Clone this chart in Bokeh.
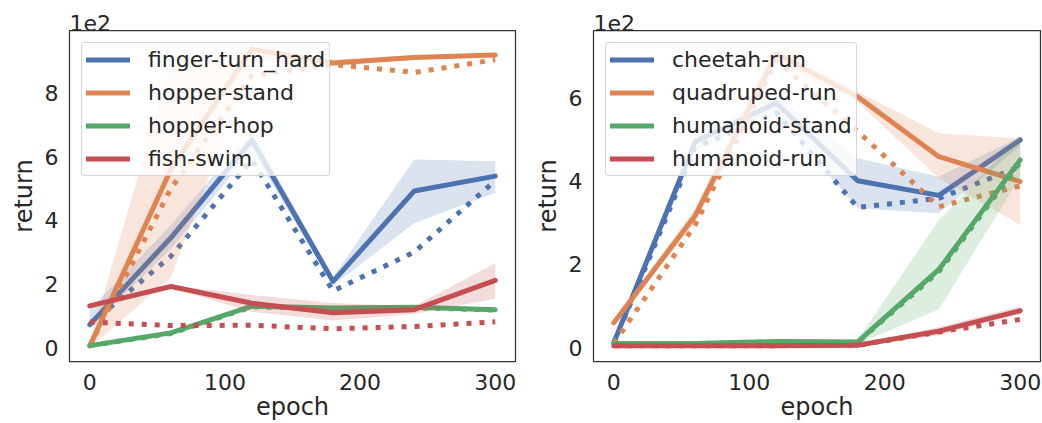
from bokeh.plotting import figure
from bokeh.layouts import row
from bokeh.models import Range1d, FixedTicker, CustomJSTickFormatter
from bokeh.embed import file_html
from bokeh.resources import INLINE

epochs = [0, 60, 120, 180, 240, 300]

# ---- left panel ----
left_names = ["finger-turn_hard", "hopper-stand", "hopper-hop", "fish-swim"]
finger_mean = [72, 345, 652, 208, 492, 539]
finger_lo = [60, 310, 620, 195, 391, 487]
finger_hi = [119, 385, 680, 222, 591, 586]
finger_dot = [72, 287, 590, 178, 300, 525]

hstand_mean = [5, 560, 938, 895, 912, 920]
hstand_lo = [0, 220, 900, 885, 905, 915]
hstand_hi = [20, 890, 947, 905, 920, 925]
hstand_dot = [5, 500, 855, 890, 865, 905]

hhop_mean = [6, 46, 130, 124, 127, 119]
hhop_lo = [3, 40, 122, 118, 120, 114]
hhop_hi = [10, 52, 138, 130, 134, 124]
hhop_dot = [6, 44, 128, 122, 125, 118]

fish_mean = [131, 192, 139, 109, 119, 211]
fish_lo = [125, 188, 112, 85, 105, 153]
fish_hi = [137, 196, 165, 140, 130, 265]
fish_dot = [80, 69, 70, 59, 66, 81]

# ---- right panel ----
right_names = ["cheetah-run", "quadruped-run", "humanoid-stand", "humanoid-run"]
cheetah_mean = [12, 495, 588, 401, 366, 499]
cheetah_lo = [5, 475, 560, 335, 323, 485]
cheetah_hi = [20, 510, 605, 455, 411, 507]
cheetah_dot = [10, 480, 565, 337, 359, 435]

quad_mean = [60, 317, 706, 603, 459, 399]
quad_lo = [55, 300, 680, 590, 407, 295]
quad_hi = [65, 335, 730, 615, 515, 503]
quad_dot = [10, 295, 690, 520, 339, 389]

hustand_mean = [10, 10, 15, 14, 188, 451]
hustand_lo = [5, 5, 10, 9, 92, 411]
hustand_hi = [15, 15, 20, 19, 307, 511]
hustand_dot = [10, 10, 14, 13, 183, 445]

hurun_mean = [5, 5, 5, 6, 40, 89]
hurun_lo = [2, 2, 2, 3, 30, 80]
hurun_hi = [8, 8, 8, 9, 50, 99]
hurun_dot = [5, 5, 5, 6, 38, 68]

colors = ["#4C72B0", "#DD8452", "#55A868", "#C44E52"]
x_ticks = [0, 100, 200, 300]
left_yticks = [0, 200, 400, 600, 800]
right_yticks = [0, 200, 400, 600]

FONT = "DejaVu Sans"
TXT = "#262626"


def make_panel(series, names, yticks, yrange, width, bl, br):
    p = figure(width=width, height=423, output_backend="svg", toolbar_location=None,
               x_range=Range1d(-15, 315), y_range=Range1d(*yrange),
               min_border_left=bl, min_border_right=br, min_border_top=30,
               min_border_bottom=61)
    p.background_fill_color = "white"
    p.border_fill_color = "white"
    p.grid.visible = False
    p.outline_line_color = "#333333"
    p.outline_line_width = 1.25
    p.outline_line_alpha = 1.0

    for (mean, lo, hi, dot), name, c in zip(series, names, colors):
        p.varea(x=epochs, y1=lo, y2=hi, fill_color=c, fill_alpha=0.2)
        p.line(epochs, mean, line_color=c, line_width=5, line_cap="round",
               line_join="round", legend_label=name)
        p.line(epochs, dot, line_color=c, line_width=5, line_dash="5 8",
               line_cap="butt")

    for ax in (p.xaxis[0], p.yaxis[0]):
        ax.axis_line_color = None
        ax.major_tick_line_color = None
        ax.minor_tick_line_color = None
        ax.major_label_text_font = FONT
        ax.major_label_text_font_size = "22px"
        ax.major_label_text_color = TXT
        ax.axis_label_text_font = FONT
        ax.axis_label_text_font_size = "24px"
        ax.axis_label_text_font_style = "normal"
        ax.axis_label_text_color = TXT

    p.xaxis.ticker = FixedTicker(ticks=x_ticks)
    p.xaxis.axis_label = "epoch"
    p.xaxis.major_label_standoff = 6
    p.xaxis.axis_label_standoff = 0
    p.yaxis.ticker = FixedTicker(ticks=yticks)
    p.yaxis.formatter = CustomJSTickFormatter(code="return (tick/100).toFixed(0);")
    p.yaxis.axis_label = "return"
    p.yaxis.major_label_standoff = 5
    p.yaxis.axis_label_standoff = 4

    p.title.text = "1e2"
    p.title.text_font = FONT
    p.title.text_font_size = "22px"
    p.title.text_font_style = "normal"
    p.title.text_color = TXT
    p.title.standoff = 0
    p.title.offset = 0

    lg = p.legend[0]
    lg.location = "top_left"
    lg.margin = 12
    lg.padding = 4
    lg.spacing = 8
    lg.glyph_width = 44
    lg.glyph_height = 25
    lg.label_height = 25
    lg.label_standoff = 18
    lg.label_text_font = FONT
    lg.label_text_font_size = "22px"
    lg.label_text_color = TXT
    lg.background_fill_color = "white"
    lg.background_fill_alpha = 0.8
    lg.border_line_color = "#cccccc"
    lg.border_line_alpha = 0.8
    lg.border_line_width = 1
    try:
        lg.border_radius = 4
    except Exception:
        pass
    return p


left_series = [
    (finger_mean, finger_lo, finger_hi, finger_dot),
    (hstand_mean, hstand_lo, hstand_hi, hstand_dot),
    (hhop_mean, hhop_lo, hhop_hi, hhop_dot),
    (fish_mean, fish_lo, fish_hi, fish_dot),
]
right_series = [
    (cheetah_mean, cheetah_lo, cheetah_hi, cheetah_dot),
    (quad_mean, quad_lo, quad_hi, quad_dot),
    (hustand_mean, hustand_lo, hustand_hi, hustand_dot),
    (hurun_mean, hurun_lo, hurun_hi, hurun_dot),
]

p1 = make_panel(left_series, left_names, left_yticks, (-44, 997), 520, 69, 5)
p2 = make_panel(right_series, right_names, right_yticks, (-33, 762), 522, 73, 2)

layout = row(p1, p2)
open("out.html", "w").write(file_html(layout, INLINE))
